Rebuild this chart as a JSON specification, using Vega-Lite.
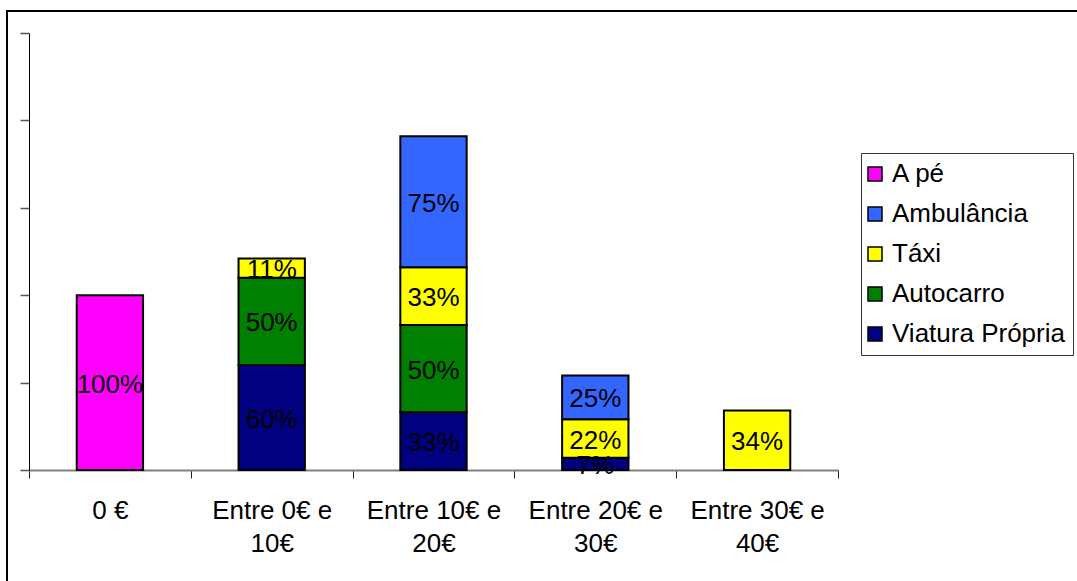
{
  "$schema": "https://vega.github.io/schema/vega-lite/v6.json",
  "width": 1073,
  "height": 573,
  "autosize": "none",
  "padding": {"left": 7, "top": 11, "right": -3, "bottom": -3},
  "background": "white",
  "config": {
    "font": "Liberation Sans",
    "view": {"stroke": "black", "strokeWidth": 2}
  },
  "data": {
    "values": [
      {"escalao": "0 €", "modo": "A pé", "valor": 100},
      {"escalao": "Entre 0€ e 10€", "modo": "Viatura Própria", "valor": 60},
      {"escalao": "Entre 0€ e 10€", "modo": "Autocarro", "valor": 50},
      {"escalao": "Entre 0€ e 10€", "modo": "Táxi", "valor": 11},
      {"escalao": "Entre 10€ e 20€", "modo": "Viatura Própria", "valor": 33},
      {"escalao": "Entre 10€ e 20€", "modo": "Autocarro", "valor": 50},
      {"escalao": "Entre 10€ e 20€", "modo": "Táxi", "valor": 33},
      {"escalao": "Entre 10€ e 20€", "modo": "Ambulância", "valor": 75},
      {"escalao": "Entre 20€ e 30€", "modo": "Viatura Própria", "valor": 7},
      {"escalao": "Entre 20€ e 30€", "modo": "Táxi", "valor": 22},
      {"escalao": "Entre 20€ e 30€", "modo": "Ambulância", "valor": 25},
      {"escalao": "Entre 30€ e 40€", "modo": "Táxi", "valor": 34}
    ]
  },
  "transform": [
    {"calculate": "indexof(['Viatura Própria','Autocarro','Táxi','Ambulância','A pé'], datum.modo)", "as": "ordem"},
    {"stack": "valor", "groupby": ["escalao"], "sort": [{"field": "ordem", "order": "ascending"}], "as": ["y0", "y1"]},
    {"calculate": "(datum.y0 + datum.y1) / 2", "as": "ymid"},
    {"calculate": "datum.valor + '%'", "as": "rotulo"}
  ],
  "encoding": {
    "x": {
      "field": "escalao",
      "type": "nominal",
      "sort": ["0 €", "Entre 0€ e 10€", "Entre 10€ e 20€", "Entre 20€ e 30€", "Entre 30€ e 40€"],
      "scale": {"range": [22, 831], "paddingInner": 0, "paddingOuter": 0},
      "axis": {
        "title": null,
        "orient": "bottom",
        "offset": -114,
        "tickBand": "extent",
        "domainColor": "#808080",
        "domainWidth": 2,
        "tickColor": "#222222",
        "tickSize": 8,
        "tickWidth": 1,
        "labelAngle": 0,
        "labelFontSize": 26,
        "labelColor": "black",
        "labelPadding": 19,
        "labelLineHeight": 33,
        "labelOverlap": false,
        "labelFlush": false,
        "labelExpr": "isString(datum.value) && indexof(datum.value, ' e ') > 0 ? [slice(datum.value, 0, indexof(datum.value, ' e ') + 2), slice(datum.value, indexof(datum.value, ' e ') + 3)] : datum.value"
      }
    }
  },
  "layer": [
    {
      "mark": {"type": "bar", "stroke": "black", "strokeWidth": 2, "width": {"band": 0.41}},
      "encoding": {
        "y": {
          "field": "y1",
          "type": "quantitative",
          "scale": {"domain": [0, 250], "range": [459, 22], "nice": false},
          "axis": {
            "title": null,
            "orient": "left",
            "offset": -22,
            "values": [0, 50, 100, 150, 200, 250],
            "labels": false,
            "grid": false,
            "domainColor": "black",
            "domainWidth": 1,
            "tickColor": "#555555",
            "tickSize": 9,
            "tickWidth": 1.5
          }
        },
        "y2": {"field": "y0"},
        "color": {
          "field": "modo",
          "type": "nominal",
          "scale": {
            "domain": ["A pé", "Ambulância", "Táxi", "Autocarro", "Viatura Própria"],
            "range": ["#FF00FF", "#3366FF", "#FFFF00", "#008000", "#000080"]
          },
          "legend": {
            "title": null,
            "orient": "none",
            "legendX": 854,
            "legendY": 142,
            "direction": "vertical",
            "symbolType": "square",
            "symbolSize": 196,
            "symbolStrokeColor": "black",
            "symbolStrokeWidth": 1.5,
            "symbolOpacity": 1,
            "symbolOffset": -7,
            "labelFontSize": 26,
            "labelColor": "black",
            "labelOffset": 4,
            "labelLimit": 400,
            "labelExpr": "datum.label + '\u00a0\u00a0\u00a0'",
            "rowPadding": 14,
            "padding": 8,
            "strokeColor": "#333333",
            "fillColor": "white"
          }
        }
      }
    },
    {
      "mark": {"type": "text", "fontSize": 26, "baseline": "middle", "dy": 2, "color": "black"},
      "encoding": {
        "y": {"field": "ymid", "type": "quantitative"},
        "text": {"field": "rotulo"}
      }
    }
  ]
}
